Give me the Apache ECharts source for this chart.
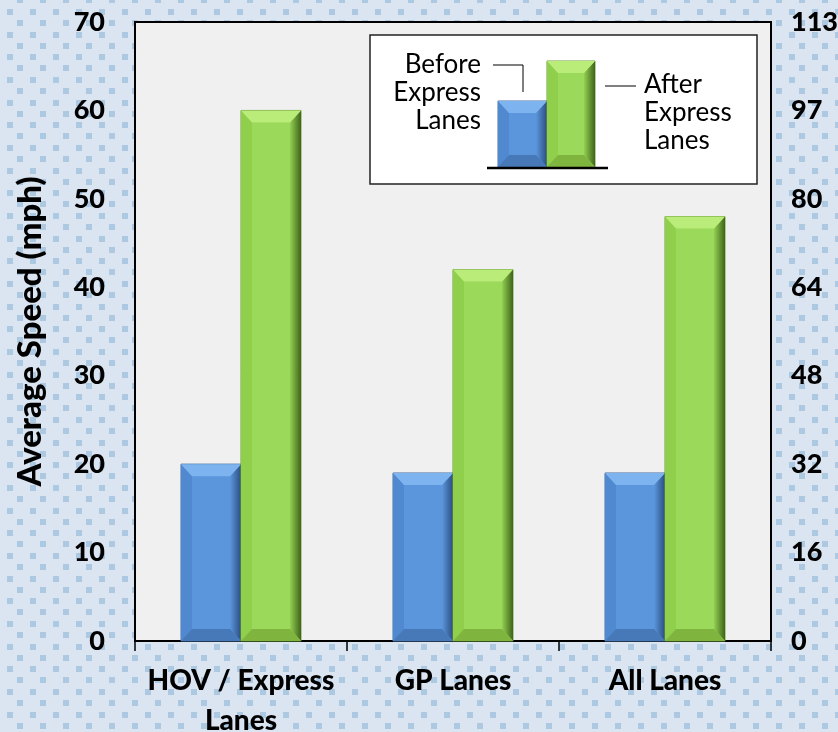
<!DOCTYPE html>
<html>
<head>
<meta charset="utf-8">
<script src="https://cdn.jsdelivr.net/npm/echarts@6/dist/echarts.min.js"></script>
<style>
  html, body { margin: 0; padding: 0; background: #dbe5f1; }
  #chart { width: 838px; height: 732px; }
</style>
</head>
<body>
<div id="chart"></div>
<script>
// Average speeds (mph) before and after the express lanes opened
const categories = ['HOV / Express\nLanes', 'GP Lanes', 'All Lanes'];
const beforeSpeeds = [20, 19, 19];
const afterSpeeds = [60, 42, 48];
// Right-hand axis: the same ticks expressed in km/h
const kmhLabels = ['0', '16', '32', '48', '64', '80', '97', '113'];

const FONT = 'Lato, "Noto Sans", sans-serif';
const HEAVY = 900;

const palettes = {
  blue: {
    face: '#5b96dc', top: '#7db4f0', left: '#5089d0', bottom: '#4778b8',
    rightFrom: '#5b96dc', rightTo: '#2b4e80', edge: '#4a6f9c'
  },
  green: {
    face: '#9bd95a', top: '#b9ec78', left: '#8fcf4c', bottom: '#7fb53f',
    rightFrom: '#93d052', rightTo: '#3f6419', edge: '#6f9a3e'
  }
};

// Bevelled bar made of a face and four slanted edges
function bevelShapes(x0, yTop, w, h, p) {
  const x1 = x0 + w, yBase = yTop + h;
  const b = Math.min(12, h / 2);
  const s = Math.min(11, w / 2);
  return [
    { type: 'rect', shape: { x: x0, y: yTop, width: w, height: h },
      style: { fill: p.face, stroke: p.edge, lineWidth: 1 } },
    { type: 'polygon', shape: { points: [[x0, yTop], [x0 + s, yTop + b], [x0 + s, yBase - b], [x0, yBase]] },
      style: { fill: p.left } },
    { type: 'polygon', shape: { points: [[x1, yTop], [x1 - s, yTop + b], [x1 - s, yBase - b], [x1, yBase]] },
      style: { fill: new echarts.graphic.LinearGradient(0, 0, 1, 0, [
        { offset: 0, color: p.rightFrom }, { offset: 1, color: p.rightTo }]) } },
    { type: 'polygon', shape: { points: [[x0, yTop], [x1, yTop], [x1 - s, yTop + b], [x0 + s, yTop + b]] },
      style: { fill: p.top } },
    { type: 'polygon', shape: { points: [[x0, yBase], [x1, yBase], [x1 - s, yBase - b], [x0 + s, yBase - b]] },
      style: { fill: p.bottom } }
  ];
}

function bevelSeries(name, values, palette, slot) {
  return {
    name: name,
    type: 'custom',
    data: values.map((v, i) => [i, v]),
    encode: { x: 0, y: 1 },
    renderItem: function (params, api) {
      const cat = api.value(0), val = api.value(1);
      const band = api.size([1, 0])[0];
      const w = band * 0.283;
      const base = api.coord([cat, 0]);
      const top = api.coord([cat, val]);
      const x0 = base[0] - w + slot * w;
      return { type: 'group', children: bevelShapes(x0, top[1], w, base[1] - top[1], palette) };
    },
    z: 3
  };
}

// Dotted backdrop tile (staggered rows of small squares)
const tile = document.createElement('canvas');
tile.width = 23; tile.height = 68;
(function () {
  const c = tile.getContext('2d');
  c.fillStyle = '#dbe5f1';
  c.fillRect(0, 0, 23, 68);
  c.fillStyle = '#adc9e2';
  [9, 32, 54].forEach(y => c.fillRect(7, y, 6, 6));
  [20, 43, 65].forEach(y => {
    c.fillRect(17, y, 6, 6);
    if (y + 6 > 68) c.fillRect(17, y - 68, 6, 6);
  });
})();

const chart = echarts.init(document.getElementById('chart'), null, { renderer: 'canvas' });

const legendText = { fill: '#000', font: '400 26px ' + FONT, lineHeight: 28 };

const legendParts = [
  { type: 'rect', shape: { x: 370, y: 35, width: 387, height: 149 },
    style: { fill: '#fff', stroke: '#222', lineWidth: 1.5 } },
  ...bevelShapes(498, 101, 49, 66, palettes.blue),
  ...bevelShapes(547, 61, 48, 106, palettes.green),
  { type: 'line', shape: { x1: 487, y1: 168, x2: 608, y2: 168 }, style: { stroke: '#000', lineWidth: 2.5 } },
  { type: 'polyline', shape: { points: [[493, 65], [523, 65], [523, 92]] }, style: { stroke: '#000', lineWidth: 1, fill: null } },
  { type: 'line', shape: { x1: 605, y1: 86, x2: 636, y2: 86 }, style: { stroke: '#000', lineWidth: 1 } },
  { type: 'text', x: 481, y: 51, style: Object.assign({ text: 'Before\nExpress\nLanes', align: 'right', verticalAlign: 'top' }, legendText) },
  { type: 'text', x: 644, y: 71, style: Object.assign({ text: 'After\nExpress\nLanes', align: 'left', verticalAlign: 'top' }, legendText) }
].map((el, i) => Object.assign({ z: 100 + i, silent: true }, el));

chart.setOption({
  animation: false,
  backgroundColor: '#dbe5f1',
  textStyle: { fontFamily: FONT },
  grid: {
    left: 135, right: 67, top: 22, bottom: 91,
    outerBoundsMode: 'none',
    show: true, backgroundColor: '#f0f0f0', borderColor: '#000', borderWidth: 2, z: 1
  },
  xAxis: {
    type: 'category',
    data: categories,
    boundaryGap: true,
    axisLine: { lineStyle: { color: '#000', width: 2 } },
    axisTick: { show: true, length: 10, lineStyle: { color: '#000', width: 1.5 } },
    axisLabel: { color: '#000', fontSize: 28, fontWeight: HEAVY, margin: 20, lineHeight: 40, interval: 0, fontFamily: FONT }
  },
  yAxis: [
    {
      type: 'value', min: 0, max: 70, interval: 10,
      name: 'Average Speed (mph)', nameLocation: 'middle', nameGap: 88,
      nameTextStyle: { color: '#000', fontSize: 33, fontWeight: HEAVY, fontFamily: FONT },
      axisLine: { show: true, lineStyle: { color: '#000', width: 2 } },
      axisTick: { show: false },
      axisLabel: { color: '#000', fontSize: 27, fontWeight: HEAVY, margin: 30, fontFamily: FONT },
      splitLine: { lineStyle: { color: '#808080', width: 1 } }
    },
    {
      type: 'value', min: 0, max: 70, interval: 10, position: 'right',
      axisLine: { show: true, lineStyle: { color: '#000', width: 2 } },
      axisTick: { show: false },
      splitLine: { show: false },
      axisLabel: {
        color: '#000', fontSize: 27, fontWeight: HEAVY, margin: 20, fontFamily: FONT,
        formatter: (v, i) => kmhLabels[i]
      }
    }
  ],
  graphic: [
    { type: 'rect', z: -10, silent: true, shape: { x: 0, y: 0, width: 838, height: 732 },
      style: { fill: { image: tile, repeat: 'repeat' } } },
    ...legendParts
  ],
  series: [
    bevelSeries('Before Express Lanes', beforeSpeeds, palettes.blue, 0),
    bevelSeries('After Express Lanes', afterSpeeds, palettes.green, 1)
  ]
});
</script>
</body>
</html>
